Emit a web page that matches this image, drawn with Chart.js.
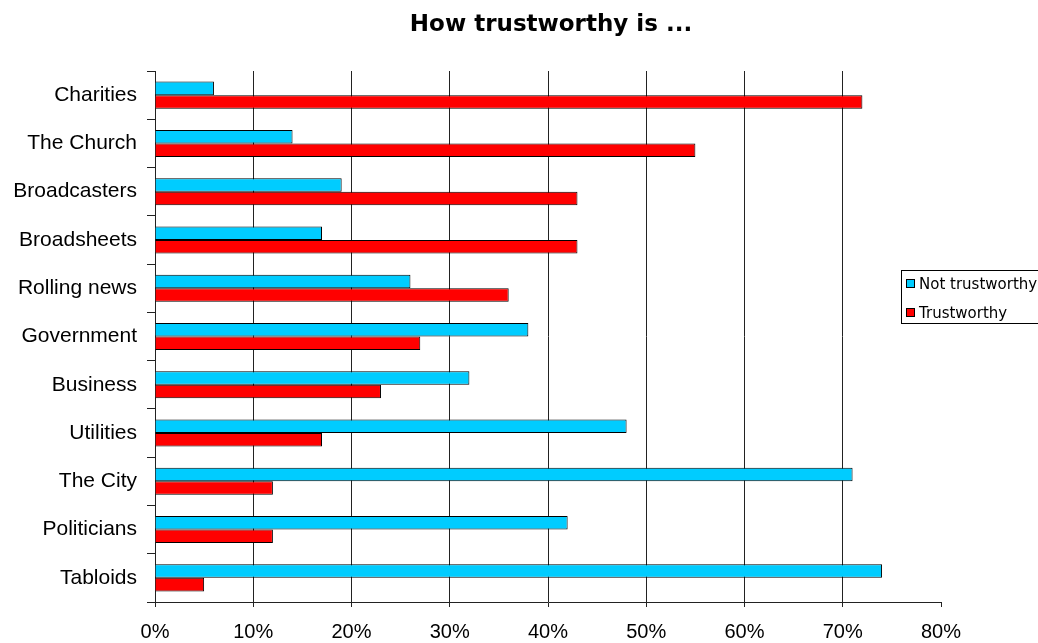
<!DOCTYPE html>
<html>
<head>
<meta charset="utf-8">
<script src="https://cdn.jsdelivr.net/npm/chart.js@4/dist/chart.umd.min.js"></script>
<style>
  html, body { margin: 0; padding: 0; background: #fff; }
  #wrap { width: 1038px; height: 643px; position: relative; }
</style>
</head>
<body>
<div id="wrap"><canvas id="c" width="1038" height="643"></canvas></div>
<script>
const categories = ["Charities", "The Church", "Broadcasters", "Broadsheets", "Rolling news",
  "Government", "Business", "Utilities", "The City", "Politicians", "Tabloids"];
const notTrustworthy = [6, 14, 19, 17, 26, 38, 32, 48, 71, 42, 74];
const trustworthy = [72, 55, 43, 43, 36, 27, 23, 17, 12, 12, 5];
const seriesNames = ["Not trustworthy", "Trustworthy"];
const seriesColors = ["#00CCFF", "#FF0000"];
const titleText = "How trustworthy is ...";
const xMax = 80;
const xStep = 10;

const titlePlugin = {
  id: 'customTitle',
  afterDraw(chart) {
    const ctx = chart.ctx;
    ctx.save();
    ctx.font = 'bold 23px "DejaVu Sans", sans-serif';
    ctx.fillStyle = '#000';
    ctx.textAlign = 'center';
    ctx.textBaseline = 'alphabetic';
    ctx.fillText(titleText, 551, 31);
    ctx.restore();
  }
};

const legendPlugin = {
  id: 'customLegend',
  afterDraw(chart) {
    const ctx = chart.ctx;
    ctx.save();
    ctx.fillStyle = '#fff';
    ctx.fillRect(901, 270, 200, 53);
    ctx.strokeStyle = '#000';
    ctx.lineWidth = 1;
    ctx.strokeRect(901.5, 270.5, 200, 53);
    ctx.font = '15px "DejaVu Sans", sans-serif';
    ctx.textBaseline = 'alphabetic';
    ctx.textAlign = 'left';
    chart.data.datasets.forEach((ds, i) => {
      const y = 279 + i * 29;
      ctx.fillStyle = ds.backgroundColor;
      ctx.fillRect(906, y, 9, 9);
      ctx.strokeRect(906.5, y + 0.5, 8, 8);
      ctx.fillStyle = '#000';
      ctx.fillText(ds.label, 919, y + 10);
    });
    ctx.restore();
  }
};

new Chart(document.getElementById('c'), {
  type: 'bar',
  data: {
    labels: categories,
    datasets: [
      { label: seriesNames[0], data: notTrustworthy, backgroundColor: seriesColors[0],
        borderColor: '#000', borderWidth: 1 },
      { label: seriesNames[1], data: trustworthy, backgroundColor: seriesColors[1],
        borderColor: '#000', borderWidth: 1 }
    ]
  },
  options: {
    indexAxis: 'y',
    responsive: false,
    animation: false,
    devicePixelRatio: 1,
    categoryPercentage: 0.56,
    barPercentage: 1.0,
    layout: { padding: { top: 71, right: 97, bottom: 0, left: 0 } },
    plugins: {
      legend: { display: false },
      title: { display: false },
      tooltip: { enabled: false }
    },
    scales: {
      x: {
        type: 'linear',
        min: 0,
        max: xMax,
        afterFit(scale) { scale.height = 41; },
        ticks: {
          stepSize: xStep,
          callback: v => v + '%',
          color: '#000',
          font: { family: '"Liberation Sans", Arial, sans-serif', size: 20 },
          padding: 13,
          maxRotation: 0
        },
        grid: {
          color: ctx => (ctx.tick && ctx.tick.value === xMax) ? 'rgba(0,0,0,0)' : '#222',
          tickColor: '#222',
          lineWidth: 1,
          tickLength: 5,
          drawOnChartArea: true,
          drawTicks: true
        },
        border: { display: true, color: '#222', width: 1 }
      },
      y: {
        type: 'category',
        offset: true,
        afterFit(scale) { scale.width = 155; },
        ticks: {
          color: '#000',
          font: { family: '"Liberation Sans", Arial, sans-serif', size: 21 },
          padding: 10
        },
        grid: {
          offset: true,
          drawOnChartArea: false,
          drawTicks: true,
          tickLength: 8,
          color: '#222',
          tickColor: '#222'
        },
        border: { display: true, color: '#222', width: 1 }
      }
    }
  },
  plugins: [titlePlugin, legendPlugin]
});
</script>
</body>
</html>
